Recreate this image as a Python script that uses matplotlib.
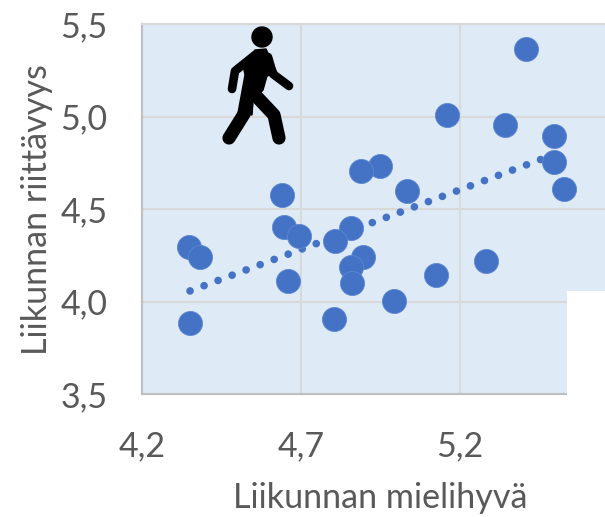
import matplotlib
matplotlib.use('Agg')
import matplotlib.pyplot as plt
from matplotlib.lines import Line2D
from matplotlib.patches import Circle, Polygon, Rectangle
from matplotlib.transforms import Affine2D

plt.rcParams['font.family'] = ['Lato', 'DejaVu Sans']

# Values
x_vals = [5.408, 5.159, 5.342, 5.496, 5.496, 5.527, 4.948, 4.889, 5.033, 4.640, 4.647, 4.694, 4.857,
          4.807, 4.348, 4.382, 4.895, 4.857, 4.659, 4.860, 5.125, 5.282, 4.992, 4.804, 4.351]
y_vals = [5.365, 5.008, 4.954, 4.895, 4.754, 4.608, 4.732, 4.705, 4.597, 4.576, 4.403, 4.354, 4.397,
          4.327, 4.295, 4.241, 4.241, 4.186, 4.111, 4.100, 4.143, 4.219, 4.003, 3.905, 3.884]
trend_x = [4.351, 5.467]
trend_y = [4.057, 4.776]
x_ticks = [4.2, 4.7, 5.2]
y_ticks = [3.5, 4.0, 4.5, 5.0, 5.5]
x_label = 'Liikunnan mielihyvä'
y_label = 'Liikunnan riittävyys'

W, H = 605, 517
BLUE = '#4472c4'
GRID = '#d9d9d9'
AXIS = '#bfbfbf'
TEXT = '#595959'

fig = plt.figure(figsize=(W / 100, H / 100), dpi=100)
ax = fig.add_axes([142 / W, 1 - 394 / H, (W - 142) / W, (394 - 24) / H])
ax.set_facecolor('#deeaf6')
ax.set_xlim(4.2, 4.2 + (W - 142) / 318)
ax.set_ylim(3.5, 5.5)

ax.set_xticks(x_ticks, [f'{v:.1f}'.replace('.', ',') for v in x_ticks])
ax.set_yticks(y_ticks, [f'{v:.1f}'.replace('.', ',') for v in y_ticks])
ax.tick_params(length=0, labelsize=24.5, labelcolor=TEXT)
ax.tick_params(axis='x', pad=26)
ax.tick_params(axis='y', pad=25)
ax.grid(color=GRID, lw=1.5, clip_on=False)
ax.set_axisbelow(True)

ax.spines['right'].set_visible(False)
ax.spines['top'].set_color(GRID)
ax.spines['top'].set_linewidth(1.5)
ax.spines['left'].set_color(AXIS)
ax.spines['bottom'].set_color(AXIS)
ax.spines['left'].set_linewidth(1.5)
ax.spines['bottom'].set_linewidth(1.5)

ax.plot(trend_x, trend_y, color=BLUE, lw=5.5, linestyle=(0, (0.01, 1.95)),
        dash_capstyle='round', zorder=2)
ax.scatter(x_vals, y_vals, s=300, color=BLUE, edgecolors='#5b87d3', linewidths=0.6,
           zorder=3, clip_on=False)

# white block covering the lower right corner of the plot area
fig.add_artist(Rectangle((567 / W, 0), (W - 567) / W, 1 - 291 / H, transform=fig.transFigure,
                         facecolor='white', edgecolor='none', zorder=5))

fig.text(380 / W, 1 - 498 / H, x_label, fontsize=24.6, color=TEXT, ha='center', va='center')
fig.text(37 / W, 1 - 210 / H, y_label, fontsize=24.6, color=TEXT, ha='center', va='center',
         rotation=90)

# walking figure, in image pixels
px = Affine2D().scale(1 / W, -1 / H).translate(0, 1) + fig.transFigure
fig.add_artist(Circle((262, 37), 10, transform=px, color='black', zorder=6))
fig.add_artist(Polygon([(255, 50), (266, 49), (277, 73), (267, 76), (263, 90), (253, 102),
                        (252, 115), (238, 113), (245, 75), (243, 65)],
                       transform=px, color='black', zorder=6))
limbs = [
    ([255, 235, 232], [55, 71, 89], 6.2),
    ([268, 273, 289], [57, 74, 86], 6.2),
    ([244, 229], [114, 138], 9.5),
    ([258, 274, 279], [98, 115, 138], 9.5),
]
for xs, ys, lw in limbs:
    fig.add_artist(Line2D(xs, ys, transform=px, color='black', lw=lw, solid_capstyle='round',
                          solid_joinstyle='round', zorder=6))

fig.savefig('out.png', dpi=100)
